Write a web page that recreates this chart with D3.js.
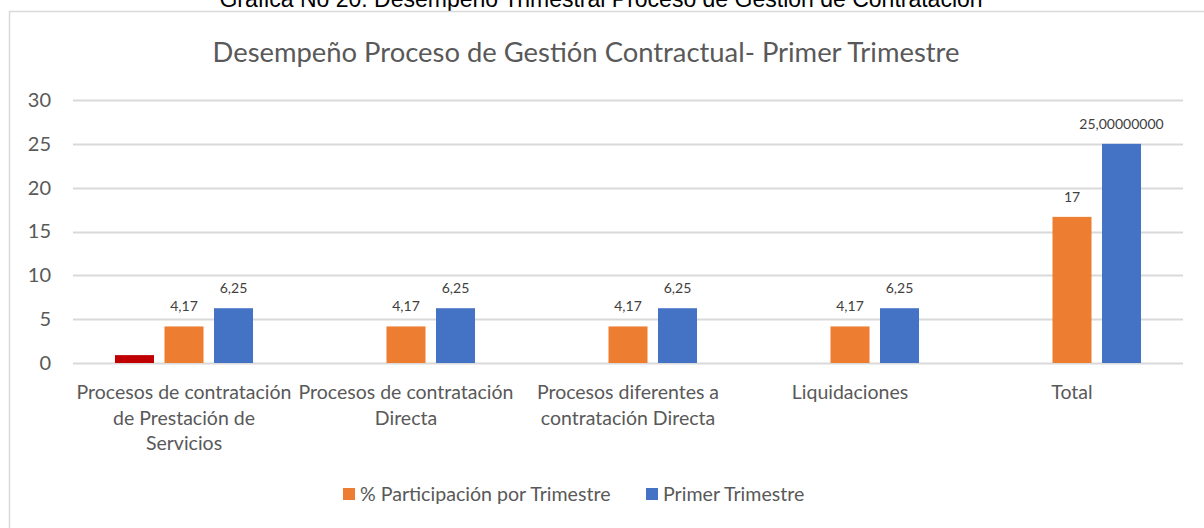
<!DOCTYPE html>
<html>
<head>
<meta charset="utf-8">
<script src="https://cdn.jsdelivr.net/npm/d3@7"></script>
<style>
  body { margin: 0; background: #fff; }
  svg { display: block; }
</style>
</head>
<body>
<script>
  // categories, each split in the lines Excel wraps them to
  const categories = [
    "Procesos de contratación de Prestación de Servicios",
    "Procesos de contratación Directa",
    "Procesos diferentes a contratación Directa",
    "Liquidaciones",
    "Total"
  ];
  const categoryLines = [
    ["Procesos de contratación", "de Prestación de", "Servicios"],
    ["Procesos de contratación", "Directa"],
    ["Procesos diferentes a", "contratación Directa"],
    ["Liquidaciones"],
    ["Total"]
  ];
  const seriesNames = ["Serie 1", "% Participación por Trimestre", "Primer Trimestre"];
  const serie1 = [0.9, 0, 0, 0, 0];
  const participacion = [4.17, 4.17, 4.17, 4.17, 16.67];
  const primerTrimestre = [6.25, 6.25, 6.25, 6.25, 25];
  const participacionLabels = ["4,17", "4,17", "4,17", "4,17", "17"];
  const primerLabels = ["6,25", "6,25", "6,25", "6,25", "25,00000000"];
  const yTicks = [0, 5, 10, 15, 20, 25, 30];
  const colors = ["#C00000", "#ED7D31", "#4472C4"];
  const legendItems = [1, 2]; // Serie 1 is not in the legend

  const width = 1204, height = 528;
  const font = "Lato, 'Open Sans', sans-serif";

  const svg = d3.select("body").append("svg")
    .attr("width", width)
    .attr("height", height);

  // page caption, cut off at the top like in the document
  svg.append("text")
    .attr("x", 601)
    .attr("y", 7)
    .attr("text-anchor", "middle")
    .style("font-family", "'Liberation Sans', Arial, sans-serif")
    .style("font-size", "23px")
    .style("fill", "#000")
    .text("Grafica No 20: Desempeño Trimestral Proceso de Gestión de Contratación");

  // chart frame
  svg.append("rect")
    .attr("x", 9.5)
    .attr("y", 11.5)
    .attr("width", 1210)
    .attr("height", 530)
    .style("fill", "none")
    .style("stroke", "#d9d9d9")
    .style("stroke-width", 1.5);

  svg.append("text")
    .attr("x", 586)
    .attr("y", 62)
    .attr("text-anchor", "middle")
    .style("font-family", font)
    .style("font-size", "27.4px")
    .style("fill", "#595959")
    .text("Desempeño Proceso de Gestión Contractual- Primer Trimestre");

  const x0 = d3.scaleBand()
    .domain(categories)
    .range([73, 1183]);

  const x1 = d3.scaleBand()
    .domain(seriesNames)
    .range([0, x0.bandwidth()])
    .paddingInner(0.212)
    .paddingOuter(0.848);

  const y = d3.scaleLinear()
    .domain([0, 30])
    .range([363, 100]);

  // gridlines
  svg.append("g")
    .selectAll("line")
    .data(yTicks)
    .enter()
    .append("line")
    .attr("x1", 73)
    .attr("x2", 1183)
    .attr("y1", d => Math.round(y(d)) + 0.5)
    .attr("y2", d => Math.round(y(d)) + 0.5)
    .style("stroke", "#d9d9d9")
    .style("stroke-width", 2);

  // y axis labels
  const yAxis = svg.append("g")
    .attr("transform", "translate(61, 0)")
    .call(d3.axisLeft(y).tickValues(yTicks).tickSize(0).tickPadding(10));
  yAxis.select(".domain").remove();
  yAxis.selectAll("text")
    .style("font-family", font)
    .style("font-size", "20px")
    .style("fill", "#595959");

  const seriesData = [serie1, participacion, primerTrimestre];
  const seriesLabels = [null, participacionLabels, primerLabels];

  seriesData.forEach((values, s) => {
    const g = svg.append("g");
    g.selectAll("rect")
      .data(values)
      .enter()
      .append("rect")
      .attr("x", (d, i) => x0(categories[i]) + x1(seriesNames[s]))
      .attr("width", x1.bandwidth())
      .attr("y", d => y(d))
      .attr("height", d => y(0) - y(d))
      .style("fill", colors[s]);

    if (seriesLabels[s]) {
      g.selectAll("text")
        .data(values)
        .enter()
        .append("text")
        .attr("x", (d, i) => x0(categories[i]) + x1(seriesNames[s]) + x1.bandwidth() / 2)
        .attr("y", d => y(d) - 15)
        .attr("text-anchor", "middle")
        .style("font-family", font)
        .style("font-size", "14px")
        .style("fill", "#404040")
        .text((d, i) => seriesLabels[s][i]);
    }
  });

  // category labels
  const catG = svg.append("g");
  categoryLines.forEach((lines, i) => {
    const cx = x0(categories[i]) + x0.bandwidth() / 2;
    const t = catG.append("text")
      .attr("x", cx)
      .attr("y", 399)
      .attr("text-anchor", "middle")
      .style("font-family", font)
      .style("font-size", "19.5px")
      .style("fill", "#595959");
    lines.forEach((line, k) => {
      t.append("tspan")
        .attr("x", cx)
        .attr("dy", k === 0 ? 0 : 25.5)
        .text(line);
    });
  });

  // legend
  const legendX = [343, 646];
  legendItems.forEach((s, k) => {
    svg.append("rect")
      .attr("x", legendX[k])
      .attr("y", 488)
      .attr("width", 12)
      .attr("height", 12)
      .style("fill", colors[s]);
    svg.append("text")
      .attr("x", legendX[k] + 17)
      .attr("y", 501)
      .style("font-family", font)
      .style("font-size", "19.6px")
      .style("fill", "#595959")
      .text(seriesNames[s]);
  });
</script>
</body>
</html>
